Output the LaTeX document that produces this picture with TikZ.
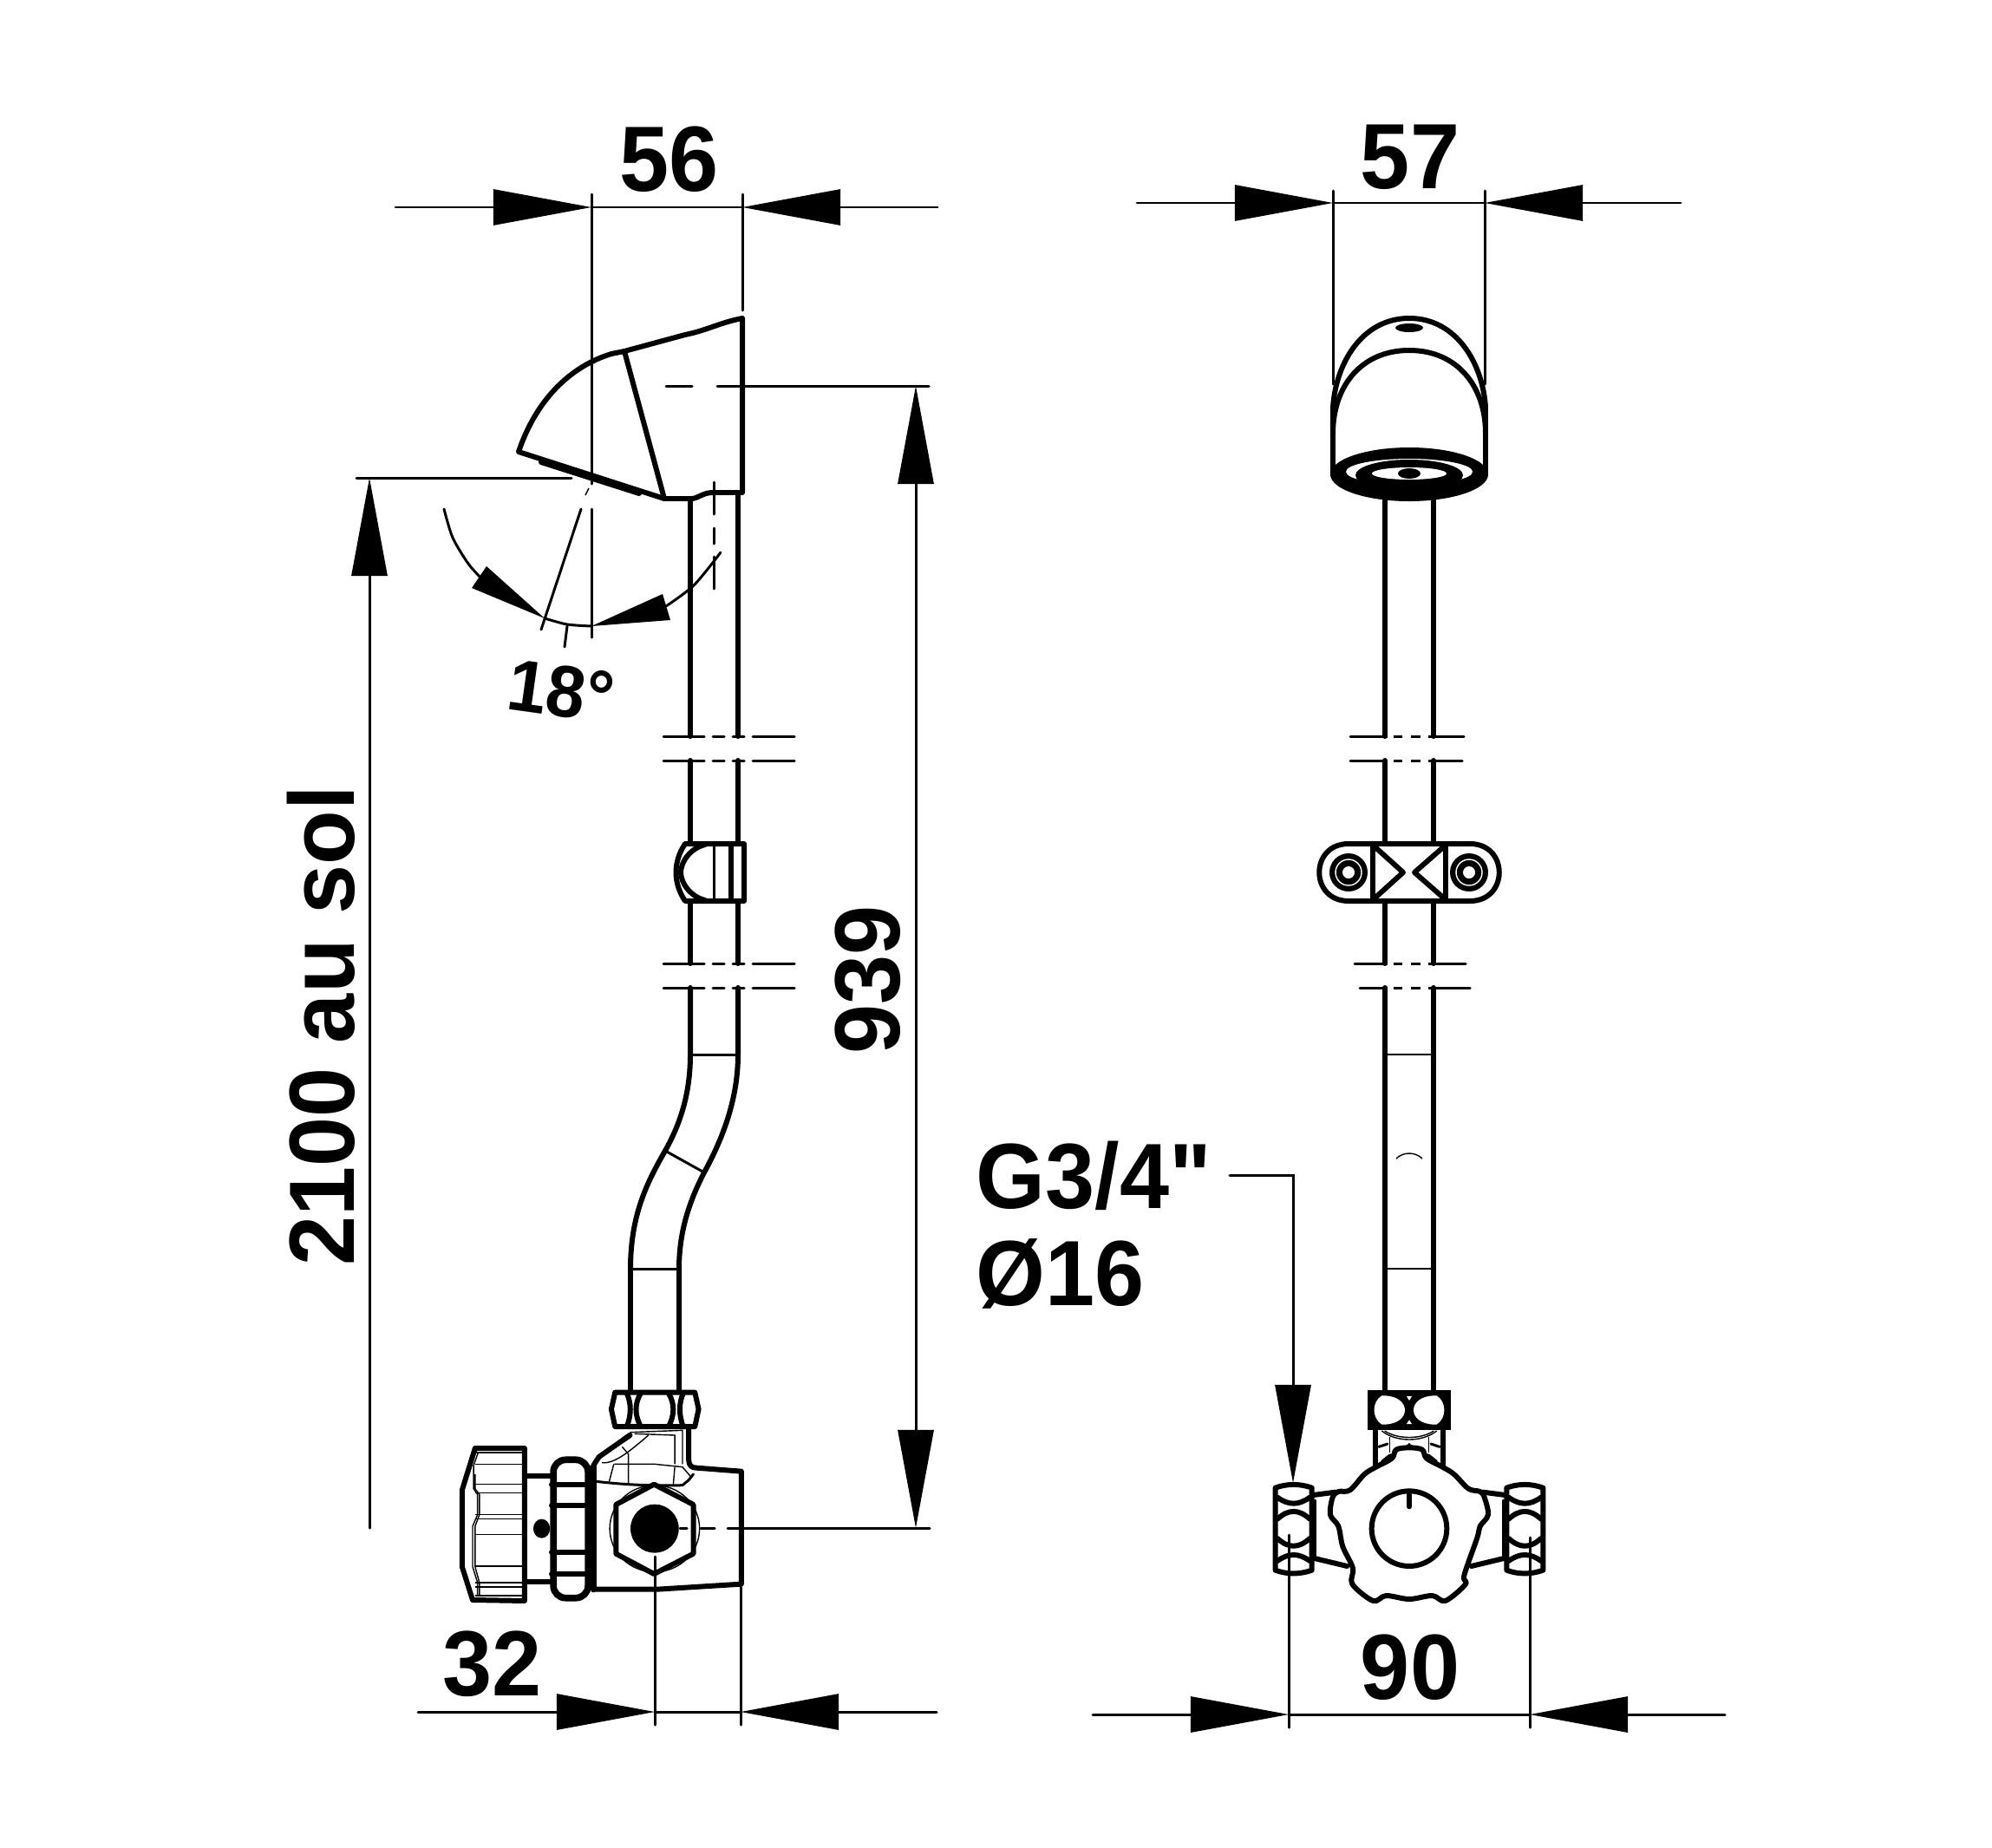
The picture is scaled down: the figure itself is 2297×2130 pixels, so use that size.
\documentclass[tikz,border=0pt]{standalone}
\usepackage{fontspec}
\setmainfont{Liberation Sans}[FakeStretch=.96]
\newfontfamily\quotefont{Liberation Sans}[FakeStretch=.96]
\usetikzlibrary{arrows.meta}
\tikzset{
  heavy/.style={line width=1.7pt,line join=round,line cap=round},
  heavier/.style={line width=2.2pt,line join=round},
  dimline/.style={line width=.85pt,line cap=round},
  fine/.style={line width=.4pt},
  dimtip/.style={-{Triangle[length=1.13cm,width=.41cm]}},
  dimtext/.style={font=\fontsize{30.4}{32}\selectfont\bfseries,inner sep=0pt,anchor=base},
  sidezoom/.style={shift={(480,1540)},xscale=.357,yscale=.3333},
  frontzoom/.style={shift={(1420,1560)},scale=.3333}
}
\begin{document}
\begin{tikzpicture}[x=.01cm,y=-.01cm]
\useasboundingbox (0,0) rectangle (2297,2130);
\fill[white] (0,0) rectangle (2297,2130);
% side view dimensions
\draw[dimline,dimtip] (456,239) -- (682,239);
\draw[dimline,dimtip] (1081,239) -- (856,239);
\draw[dimline] (682,239) -- (856,239);
\draw[dimline] (682,224) -- (682,558);
\draw[dimline] (682,587) -- (682,735);
\draw[dimline] (856,224) -- (856,358);
\node[dimtext] (widthhead) at (772,220) {56};
\draw[dimline] (411,551) -- (659,551);
\draw[dimline,dimtip] (426,1762) -- (426,551);
\node[dimtext,rotate=90] (height) at (408,1183) {2100 au sol};
\draw[dimline] (768,445) -- (798,445);
\draw[dimline] (827,445) -- (1071,445);
\draw[dimline] (808,1762) -- (824,1762);
\draw[dimline] (784,1762) -- (792,1762);
\draw[dimline] (839,1762) -- (1072,1762);
\draw[dimline,dimtip] (1056,1100) -- (1056,445);
\draw[dimline,dimtip] (1056,1100) -- (1056,1762);
\node[dimtext,rotate=90] (length) at (1037,1130) {939};
\draw[dimline] (755,1795) -- (755,1989);
\draw[dimline] (854,1830) -- (854,1989);
\draw[dimline,dimtip] (482,1974) -- (755,1974);
\draw[dimline,dimtip] (1080,1974) -- (854,1974);
\draw[dimline] (755,1974) -- (854,1974);
\node[dimtext] (offset) at (568,1955) {32};
% angle
\draw[dimline] plot[smooth] coordinates {(512,587) (522,620) (540,650) (556,668)};
\draw[dimline] plot[smooth] coordinates {(628,713) (654,720) (682,722)};
\draw[dimline] plot[smooth] coordinates {(768,699) (800,675) (831,637)};
\fill (628,713) -- (561,653) -- (544,678) -- cycle;
\fill (682,722) -- (764,685) -- (773,715) -- cycle;
\draw[dimline] (670,587) -- (624,726);
\draw[dimline] (654,722) -- (651,746);
\draw[fine] (679,563) -- (675,571);
\draw[dimline] (823,556) -- (823,593);
\draw[dimline] (823,609) -- (823,627);
\draw[dimline] (823,642) -- (823,679);
\node[font=\fontsize{24}{26}\selectfont\bfseries,inner sep=0pt,rotate=-8] (angle) at (647,797) {18°};
% head side
\draw[heavy] (856,367) -- (856,568) -- (822,568) .. controls (810,568) and (805,575) .. (797,575) -- (766,575) -- (598,521)
  .. controls (615,470) and (650,425) .. (705,408) -- (720,405) -- (790,386) .. controls (815,381) and (830,372) .. (856,367);
\draw[heavy] (720,405) -- (766,575);
\draw[heavy] (624,533) -- (737,569);
% tube side
\draw[heavy] (796,575) -- (796,849);
\draw[heavy] (851,568) -- (851,849);
\foreach \yb in {849,877,1111,1139} {
  \draw[dimline] (765,\yb) -- (812,\yb);
  \draw[dimline] (822,\yb) -- (835,\yb);
  \draw[dimline] (845,\yb) -- (858,\yb);
  \draw[dimline] (868,\yb) -- (916,\yb);
}
\draw[heavy] (796,877) -- (796,973);
\draw[heavy] (851,877) -- (851,973);
\draw[heavy] (796,1039) -- (796,1111);
\draw[heavy] (851,1039) -- (851,1111);
\draw[heavy] (790,973) -- (858,973) -- (858,1039) -- (790,1039) .. controls (776,1018) and (776,994) .. (790,973);
\draw[heavy] (813,974) .. controls (796,978) and (785,994) .. (785,1006) .. controls (785,1018) and (796,1034) .. (813,1038);
\draw[dimline] (823,976) -- (823,1036);
\draw[heavy] (843,973) -- (843,1039);
\draw[heavy] (796,1139) -- (796,1216) .. controls (796,1260) and (785,1295) .. (767,1327)
  .. controls (747,1362) and (727,1400) .. (727,1463) -- (727,1603);
\draw[heavy] (851,1139) -- (851,1216) .. controls (851,1265) and (835,1310) .. (812,1352)
  .. controls (795,1385) and (783,1420) .. (783,1463) -- (783,1603);
\draw[dimline] (796,1216) -- (851,1216);
\draw[dimline] (767,1327) -- (812,1352);
\draw[dimline] (727,1463) -- (783,1463);
% valve side
\begin{scope}[sidezoom]
\draw[heavy] (642,197) -- (900,197) -- (912,255) -- (900,315) -- (642,315) -- (630,255) -- cycle;
\draw[heavy] (680,200) .. controls (695,235) and (695,275) .. (680,315);
\draw[heavy] (725,200) .. controls (705,235) and (705,275) .. (725,315);
\draw[heavy] (815,200) .. controls (835,235) and (835,275) .. (815,315);
\draw[heavy] (862,200) .. controls (848,235) and (848,275) .. (862,315);
\draw[heavy] (572,880) -- (572,450) -- (590,420) -- (690,345);
\draw[heavy] (880,322) -- (880,430) .. controls (880,450) and (890,458) .. (905,458) -- (1050,470) -- (1050,860) -- (780,878) -- (572,878);
\draw[heavier] (572,880) -- (572,450);
\draw[fine] (690,335) -- (860,328) -- (860,445);
\draw[fine] (705,340) -- (835,345) -- (835,445);
\draw[fine] (600,440) .. controls (640,445) and (690,400) .. (750,345);
\draw[fine] (640,445) -- (770,445) -- (860,455);
\draw[fine] (638,445) -- (622,510);
\draw[fine] (665,385) -- (685,410) -- (685,515);
\draw[fine] (835,455) -- (830,518);
\draw[dimline] (582,505) .. controls (700,520) and (800,520) .. (860,518) -- (880,500) -- (895,480);
\draw[fine] (860,455) -- (888,490);
\draw[heavy] (690,345) -- (670,360);
\draw[heavy] (768,515) -- (895,585) -- (895,755) -- (768,825) -- (645,755) -- (645,585) -- cycle;
\fill (770,668) circle[x radius=78,y radius=84];
\draw[fine] (770,668) circle[x radius=145,y radius=150];
\draw[heavy] (190,390) -- (350,390) -- (350,918) -- (182,915) -- (148,800) -- (148,535) -- cycle;
\foreach \yk in {405,445,515,545,620,635,688,798,855,870,900}
  \draw[fine] (190,\yk) -- (345,\yk);
\draw[fine] (200,405) -- (185,450) -- (185,530) -- (198,550) -- (198,620) -- (182,660) -- (182,800) -- (198,855) -- (198,900);
\draw[fine] (190,480) -- (190,530) -- (204,550) -- (204,620) -- (190,660) -- (190,800) -- (204,855) -- (204,900);
\draw[heavy] (355,487) -- (432,487);
\draw[heavy] (355,852) -- (432,852);
\fill (405,668) circle[x radius=27,y radius=33];
\draw[heavier,rounded corners=4] (443,430) rectangle (555,908);
\foreach \yn in {515,588,750,826}
  \draw[heavy] (437,\yn) -- (560,\yn);
\end{scope}
% front view dimensions
\draw[dimline,dimtip] (1311,234) -- (1537,234);
\draw[dimline,dimtip] (1938,234) -- (1712,234);
\draw[dimline] (1537,234) -- (1712,234);
\draw[dimline] (1537,220) -- (1537,443);
\draw[dimline] (1712,220) -- (1712,443);
\node[dimtext] (widthfront) at (1626,217) {57};
\draw[dimline,dimtip] (1260,1977) -- (1486,1977);
\draw[dimline,dimtip] (1989,1977) -- (1764,1977);
\draw[dimline] (1486,1977) -- (1764,1977);
\draw[dimline] (1486,1770) -- (1486,1992);
\draw[dimline] (1764,1773) -- (1764,1992);
\node[dimtext] (widthvalve) at (1626,1959) {90};
\node[dimtext,anchor=base west] (thread) at (1125,1393) {\quotefont\bfseries G3/4"};
\node[dimtext,anchor=base west] (bore) at (1125,1505) {Ø16};
\draw[dimline,dimtip] (1418,1355) -- (1491,1355) -- (1491,1710);
% head front
\draw[heavy] (1537,470) .. controls (1540,420) and (1570,367) .. (1625,367) .. controls (1680,367) and (1710,420) .. (1713,470);
\draw[heavy] (1537,500) .. controls (1537,445) and (1570,404) .. (1625,404) .. controls (1680,404) and (1713,445) .. (1713,500);
\draw[heavy] (1537,470) -- (1537,547);
\draw[heavy] (1713,470) -- (1713,547);
\fill (1625,378) ellipse[x radius=16,y radius=5];
\fill (1625,547) ellipse[x radius=91,y radius=31];
\fill[white] (1625,544) ellipse[x radius=73,y radius=15];
\fill (1625,548) ellipse[x radius=62,y radius=18];
\fill[white] (1625,546) ellipse[x radius=43,y radius=7];
\fill (1625,546) ellipse[x radius=13,y radius=6];
% tube front
\draw[heavy] (1597,575) -- (1597,849);
\draw[heavy] (1653,575) -- (1653,849);
\foreach \yb/\xa/\xb in {849/1557/1688,877/1557/1686,1111/1562/1690,1139/1568/1695} {
  \draw[dimline] (\xa,\yb) -- (\xb,\yb);
}
\foreach \yb in {849,877,1111,1139} {
  \draw[white,line width=1.4pt] (1600,\yb) -- (1607,\yb);
  \draw[white,line width=1.4pt] (1617,\yb) -- (1627,\yb);
  \draw[white,line width=1.4pt] (1638,\yb) -- (1647,\yb);
}
\draw[heavy] (1597,877) -- (1597,973);
\draw[heavy] (1653,877) -- (1653,973);
\draw[heavy] (1597,1039) -- (1597,1111);
\draw[heavy] (1653,1039) -- (1653,1111);
\draw[heavy] (1555,973) -- (1695,973) .. controls (1740,973) and (1740,1039) .. (1695,1039) -- (1555,1039)
  .. controls (1510,1039) and (1510,973) .. (1555,973) -- cycle;
\draw[heavy] (1583,973) -- (1583,1039);
\draw[heavy] (1667,973) -- (1667,1039);
\draw[heavy] (1587,978) -- (1618,1006) -- (1587,1034);
\draw[heavy] (1663,978) -- (1631,1006) -- (1663,1034);
\foreach \xc in {1555,1694} {
  \fill (\xc,1006) circle[radius=22];
  \draw[white,fine] (\xc,1006) circle[radius=15];
  \fill[white] (\xc,1006) circle[radius=7];
}
\draw[heavy] (1597,1139) -- (1597,1603);
\draw[heavy] (1653,1139) -- (1653,1603);
\draw[fine] (1597,1216) -- (1653,1216);
\draw[fine] (1610,1336) .. controls (1618,1328) and (1632,1328) .. (1640,1336);
\draw[fine] (1597,1463) -- (1653,1463);
% valve front
\begin{scope}[frontzoom]
\fill (472,128) rectangle (758,268);
\fill[white] (525,148) .. controls (625,148) and (625,248) .. (525,248) -- (520,248) .. controls (485,225) and (485,170) .. (520,148) -- cycle;
\fill[white] (705,148) .. controls (605,148) and (605,248) .. (705,248) -- (710,248) .. controls (745,225) and (745,170) .. (710,148) -- cycle;
\fill[white] (606,150) -- (624,150) -- (615,165) -- cycle;
\fill[white] (606,246) -- (624,246) -- (615,232) -- cycle;
\draw[heavy] (497,270) -- (497,395);
\draw[heavy] (733,270) -- (733,395);
\draw[fine] (520,270) .. controls (570,310) and (660,310) .. (710,270);
\draw[fine] (530,270) .. controls (575,300) and (655,300) .. (700,270);
\draw[fine] (548,290) -- (548,345);
\draw[fine] (682,290) -- (682,345);
\draw[dimline] (510,325) -- (540,315);
\draw[dimline] (720,325) -- (690,315);
\draw[heavy] (525,378) -- (550,358);
\draw[heavy] (705,378) -- (680,358);
\fill (600,325) -- (615,312) -- (630,325) -- cycle;
\foreach \xn in {147,947} {
  \begin{scope}[shift={(\xn,0)}]
  \draw[heavy] (5,467) .. controls (45,452) and (90,452) .. (131,467) -- (131,752) .. controls (90,767) and (45,767) .. (5,752) -- cycle;
  \draw[heavy] (12,500) .. controls (50,528) and (86,528) .. (124,500);
  \draw[heavy] (12,575) .. controls (50,540) and (86,540) .. (124,575);
  \draw[heavy] (12,642) .. controls (50,677) and (86,677) .. (124,642);
  \draw[heavy] (12,720) .. controls (50,692) and (86,692) .. (124,720);
  \end{scope}
}
\draw[heavy] (283,492) -- (360,482);
\draw[heavy] (283,710) -- (400,738);
\draw[heavy] (947,492) -- (870,482);
\draw[heavy] (947,710) -- (830,738);
\draw[dimline] (288,510) -- (288,705);
\draw[dimline] (942,510) -- (942,705);
\draw[heavy,fill=white] plot[smooth cycle,tension=.55] coordinates {(615,328) (570,335) (555,365) (500,395) (460,420) (410,475) (370,480) (350,500) (342,560) (370,600) (385,670) (420,745) (418,800) (490,858) (535,840) (615,852) (695,840) (740,858) (810,800) (805,770) (850,640) (860,600) (888,560) (875,500) (860,480) (820,470) (770,420) (730,395) (675,365) (660,335)};
\draw[heavy] (615,608) circle[radius=130];
\draw[heavy] (615,490) -- (615,532);
\end{scope}
\end{tikzpicture}
\end{document}
